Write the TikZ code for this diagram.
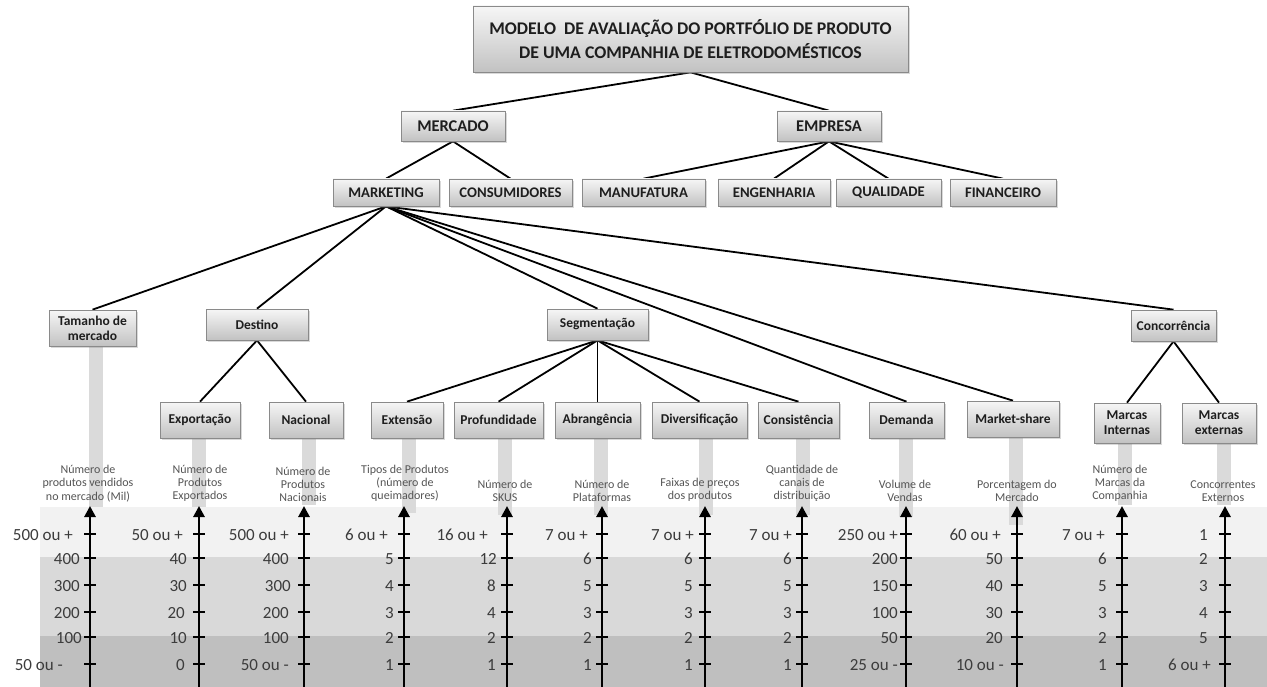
\documentclass[tikz,border=0pt]{standalone}
\usepackage{fontspec}
\setmainfont{Carlito}
\usetikzlibrary{arrows.meta,shadows,backgrounds}

\definecolor{boxtop}{HTML}{F6F6F6}
\definecolor{boxbot}{HTML}{C2C2C2}
\definecolor{boxline}{HTML}{8A8A8A}
\definecolor{boxtext}{HTML}{1E1E1E}
\definecolor{bandlight}{HTML}{F2F2F2}
\definecolor{bandmid}{HTML}{D9D9D9}
\definecolor{banddark}{HTML}{BFBFBF}
\definecolor{stemgray}{HTML}{DADADA}
\definecolor{desctext}{HTML}{555555}
\definecolor{ticktext}{HTML}{3C3C3C}

\tikzset{
  box/.style={draw=boxline, line width=0.7pt, top color=boxtop, bottom color=boxbot,
    inner sep=0pt, align=center, text=boxtext,
    drop shadow={opacity=0.3, shadow xshift=1.5pt, shadow yshift=-2pt}},
  ftitle/.style={font=\fontsize{17.8}{24}\selectfont\bfseries},
  fone/.style={font=\fontsize{16.4}{19}\selectfont\bfseries},
  ftwo/.style={font=\fontsize{14.7}{17}\selectfont\bfseries},
  fleaf/.style={font=\fontsize{13.5}{15}\selectfont\bfseries},
  link/.style={line width=1.8pt, black},
  stem/.style={fill=stemgray},
  desc/.style={anchor=south, align=center, inner sep=0pt, text=desctext,
    font=\fontsize{12}{13.3}\selectfont},
  ticklab/.style={anchor=east, inner sep=0pt, text=ticktext,
    font=\fontsize{17}{20}\selectfont},
  axisline/.style={line width=2.8pt, black,
    -{Triangle[length=11pt,width=11pt]}},
  tickline/.style={line width=2pt, black},
}

% one vertical scale: name, x position, label/gap pairs from top to bottom
\newcommand{\scaleaxis}[3]{%
  \coordinate (#1-foot) at (#2,687);
  \coordinate (#1-tip) at (#2,506);
  \draw[axisline] (#1-foot) -- (#1-tip);
  \foreach \lab/\gap [count=\i] in {#3}{%
    \pgfmathsetmacro\ty{{534,558,585,612,637,664}[\i-1]}%
    \draw[tickline] (#2-6,\ty) -- (#2+6,\ty);
    \node[ticklab] (#1-v\i) at (#2-\gap,\ty+1) {\lab};
  }%
}

% grey stem under a leaf box: node, horizontal offset, length
\newcommand{\stembar}[3]{%
  \fill[stem] ([xshift=#2pt-7pt]#1.south) rectangle ++(14,#3);
}

\begin{document}
\begin{tikzpicture}[x=1pt, y=-1pt]
\useasboundingbox (0,0) rectangle (1267,687);

% ---------------- boxes ----------------
\node[box, ftitle, minimum width=435pt, minimum height=66pt] (title) at (690.5,39)
  {MODELO\ \ DE AVALIAÇÃO DO PORTFÓLIO DE PRODUTO\\DE UMA COMPANHIA DE ELETRODOMÉSTICOS};

\node[box, fone, minimum width=104pt, minimum height=30pt] (mercado) at (453,126) {MERCADO};
\node[box, fone, minimum width=104pt, minimum height=30pt] (empresa) at (829,126) {EMPRESA};

\node[box, ftwo, minimum width=106pt, minimum height=27pt] (marketing)    at (386,192.5)   {MARKETING};
\node[box, ftwo, minimum width=123pt, minimum height=27pt] (consumidores) at (510.5,192.5) {CONSUMIDORES};
\node[box, ftwo, minimum width=123pt, minimum height=27pt] (manufatura)   at (643.5,192.5) {MANUFATURA};
\node[box, ftwo, minimum width=112pt, minimum height=27pt] (engenharia)   at (774,192.5)   {ENGENHARIA};
\node[box, ftwo, minimum width=105pt, minimum height=27pt] (qualidade)    at (888.5,192.5) {QUALIDADE};
\node[box, ftwo, minimum width=106pt, minimum height=27pt] (financeiro)   at (1003,192.5)  {FINANCEIRO};

\node[box, fleaf, minimum width=87pt,  minimum height=36pt] (tamanho)      at (92.5,328)    {Tamanho de\\mercado};
\node[box, fleaf, minimum width=102pt, minimum height=31pt] (destino)      at (257,324.5)   {Destino};
\node[box, fleaf, minimum width=101pt, minimum height=31pt] (segmentacao)  at (597.5,324.5) {Segmentação};
\node[box, fleaf, minimum width=85pt,  minimum height=31pt] (concorrencia) at (1173.5,325.5){Concorrência};

\node[box, fleaf, minimum width=80pt, minimum height=36pt] (exportacao)     at (200,420)   {Exportação};
\node[box, fleaf, minimum width=74pt, minimum height=36pt] (nacional)       at (306,420)   {Nacional};
\node[box, fleaf, minimum width=72pt, minimum height=36pt] (extensao)       at (407,420)   {Extensão};
\node[box, fleaf, minimum width=89pt, minimum height=36pt] (profundidade)   at (498.5,420) {Profundidade};
\node[box, fleaf, minimum width=85pt, minimum height=36pt] (abrangencia)    at (597.5,420) {Abrangência};
\node[box, fleaf, minimum width=95pt, minimum height=36pt] (diversificacao) at (699.5,420) {Diversificação};
\node[box, fleaf, minimum width=81pt, minimum height=36pt] (consistencia)   at (798.5,420) {Consistência};
\node[box, fleaf, minimum width=75pt, minimum height=36pt] (demanda)        at (906.5,420) {Demanda};
\node[box, fleaf, minimum width=92pt, minimum height=36pt] (marketshare)    at (1013,419)  {Market-share};
\node[box, fleaf, minimum width=66pt, minimum height=40pt] (marcasint)      at (1127,423)  {Marcas\\Internas};
\node[box, fleaf, minimum width=74pt, minimum height=40pt] (marcasext)      at (1219,423)  {Marcas\\externas};

% ---------------- background: bands, stems, links ----------------
\begin{scope}[on background layer]
  \fill[bandlight] (40,507) rectangle (1267,557);
  \fill[bandmid]   (40,557) rectangle (1267,636);
  \fill[banddark]  (40,636) rectangle (1267,687);

  \stembar{tamanho}{3}{161}
  \stembar{exportacao}{-1}{69}
  \stembar{nacional}{3}{67}
  \stembar{extensao}{2}{75}
  \stembar{profundidade}{6}{77}
  \stembar{abrangencia}{3}{77}
  \stembar{diversificacao}{6}{77}
  \stembar{consistencia}{4}{77}
  \stembar{demanda}{-1}{79}
  \stembar{marketshare}{3}{88}
  \stembar{marcasint}{-2}{62}
  \stembar{marcasext}{5}{62}

  \draw[link] (title.south) -- (mercado.north);
  \draw[link] (title.south) -- (empresa.north);
  \draw[link] (mercado.south) -- (marketing.north);
  \draw[link] (mercado.south) -- (consumidores.north);
  \foreach \c in {manufatura,engenharia,qualidade,financeiro}
    \draw[link] (empresa.south) -- (\c.north);
  \foreach \c in {tamanho,destino,segmentacao,demanda,marketshare,concorrencia}
    \draw[link] (marketing.south) -- (\c.north);
  \foreach \c in {exportacao,nacional}
    \draw[link] (destino.south) -- (\c.north);
  \foreach \c in {extensao,profundidade,abrangencia,diversificacao,consistencia}
    \draw[link] (segmentacao.south) -- (\c.north);
  \foreach \c in {marcasint,marcasext}
    \draw[link] (concorrencia.south) -- (\c.north);
\end{scope}

% ---------------- scale captions ----------------
\node[desc] (d1)  at (88,502)   {Número de\\produtos vendidos\\no mercado (Mil)};
\node[desc] (d2)  at (200,502)  {Número de\\Produtos\\Exportados};
\node[desc] (d3)  at (303,502)  {Número de\\Produtos\\Nacionais};
\node[desc] (d4)  at (405,502)  {Tipos de Produtos\\(número de\\queimadores)};
\node[desc] (d5)  at (505,502)  {Número de\\SKUS};
\node[desc] (d6)  at (602,502)  {Número de\\Plataformas};
\node[desc] (d7)  at (700,502)  {Faixas de preços\\dos produtos};
\node[desc] (d8)  at (802,502)  {Quantidade de\\canais de\\distribuição};
\node[desc] (d9)  at (905,502)  {Volume de\\Vendas};
\node[desc] (d10) at (1017,502) {Porcentagem do\\Mercado};
\node[desc] (d11) at (1120,502) {Número de\\Marcas da\\Companhia};
\node[desc] (d12) at (1223,502) {Concorrentes\\Externos};

% ---------------- scales ----------------
\scaleaxis{a1}{90}{500 ou +/17, 400/10, 300/10, 200/10, 100/8, 50 ou -/27}
\scaleaxis{a2}{199}{50 ou +/16, 40/12, 30/12, 20/14, 10/12, 0/14}
\scaleaxis{a3}{304}{500 ou +/15, 400/15, 300/13, 200/15, 100/15, 50 ou -/15}
\scaleaxis{a4}{404}{6 ou +/16, 5/10, 4/10, 3/10, 2/10, 1/10}
\scaleaxis{a5}{507}{16 ou +/19, 12/10, 8/11, 4/11, 2/11, 1/11}
\scaleaxis{a6}{602}{7 ou +/14, 6/10, 5/10, 3/10, 2/10, 1/10}
\scaleaxis{a7}{705}{7 ou +/11, 6/12, 5/12, 3/12, 2/12, 1/12}
\scaleaxis{a8}{802}{7 ou +/10, 6/10, 5/10, 3/10, 2/10, 1/10}
\scaleaxis{a9}{906}{250 ou +/8, 200/8, 150/8, 100/8, 50/8, 25 ou -/8}
\scaleaxis{a10}{1017}{60 ou +/16, 50/14, 40/14, 30/14, 20/14, 10 ou -/13}
\scaleaxis{a11}{1122}{7 ou +/17, 6/15, 5/15, 3/15, 2/15, 1/15}
\scaleaxis{a12}{1225}{1/17, 2/17, 3/17, 4/17, 5/17, 6 ou +/14}

\end{tikzpicture}
\end{document}
